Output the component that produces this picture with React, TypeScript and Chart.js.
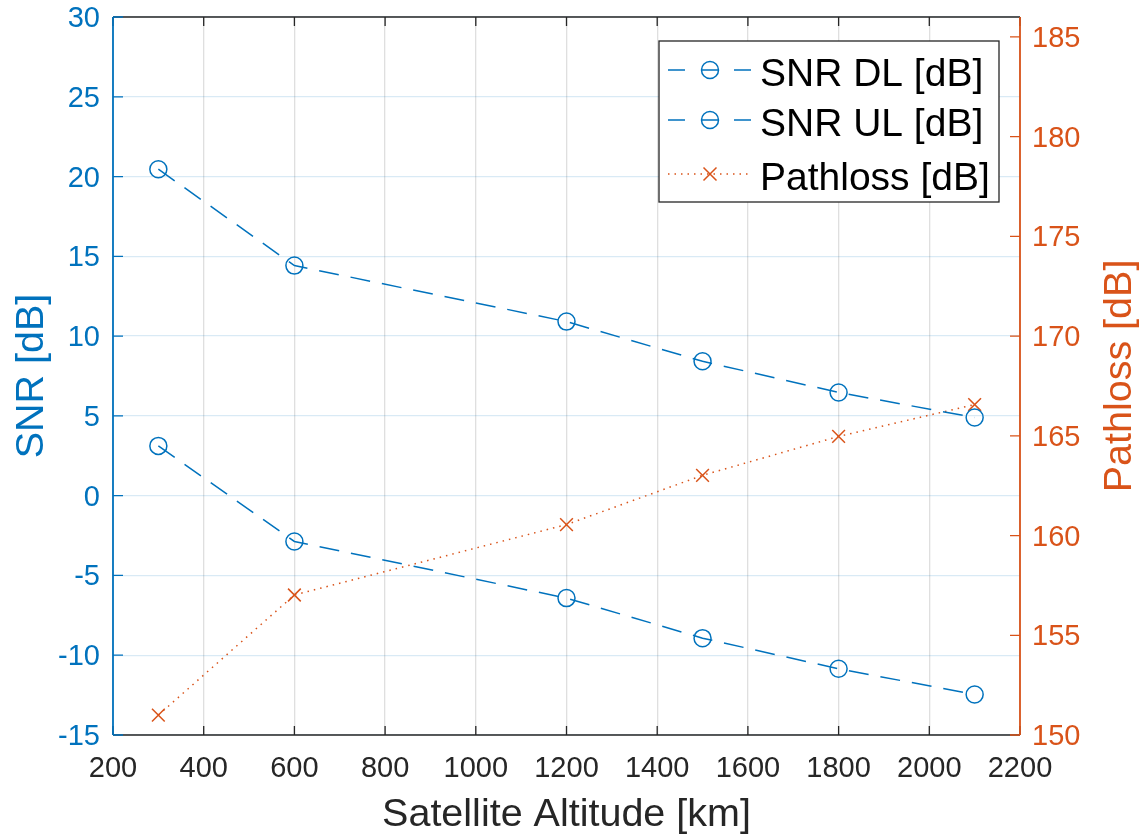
import React, { useEffect, useRef } from "react";
import { Chart, registerables } from "chart.js";

Chart.register(...registerables);

// Satellite altitude in km
const altitudes = [300, 600, 1200, 1500, 1800, 2100];
// Downlink / uplink SNR in dB
const snrDL = [20.46, 14.42, 10.91, 8.42, 6.47, 4.9];
const snrUL = [3.12, -2.87, -6.42, -8.93, -10.85, -12.46];
// Free-space path loss in dB
const pathloss = [151.0, 157.02, 160.55, 163.02, 164.97, 166.57];

const xTicks = [200, 400, 600, 800, 1000, 1200, 1400, 1600, 1800, 2000, 2200];
const snrTicks = [-15, -10, -5, 0, 5, 10, 15, 20, 25, 30];
const pathlossTicks = [150, 155, 160, 165, 170, 175, 180, 185];

const seriesLabels = ["SNR DL [dB]", "SNR UL [dB]", "Pathloss [dB]"];
const xTitle = "Satellite Altitude [km]";
const leftTitle = "SNR [dB]";
const rightTitle = "Pathloss [dB]";

const BLUE = "#0072BD";
const ORANGE = "#D95319";
const DARK = "#262626";
const FONT = '"Liberation Sans", Arial, Helvetica, sans-serif';

const toPoints = (ys: number[]) => altitudes.map((x, i) => ({ x, y: ys[i] }));

const axesPlugin = {
  id: "matlabAxes",
  afterDraw(chart: any) {
    const { ctx, chartArea } = chart;
    const { left, right, top, bottom } = chartArea;
    const xs = chart.scales.x;
    const yl = chart.scales.y;
    const yr = chart.scales.y1;
    ctx.save();

    // box edges
    ctx.lineWidth = 1.5;
    ctx.strokeStyle = DARK;
    ctx.beginPath();
    ctx.moveTo(left, bottom);
    ctx.lineTo(right, bottom);
    ctx.moveTo(left, top);
    ctx.lineTo(right, top);
    ctx.stroke();

    // x ticks (inward, top and bottom)
    ctx.lineWidth = 1.3;
    ctx.strokeStyle = DARK;
    ctx.beginPath();
    xTicks.forEach((v) => {
      const px = xs.getPixelForValue(v);
      ctx.moveTo(px, bottom);
      ctx.lineTo(px, bottom - 9);
      ctx.moveTo(px, top);
      ctx.lineTo(px, top + 9);
    });
    ctx.stroke();

    // left axis
    ctx.strokeStyle = BLUE;
    ctx.lineWidth = 1.8;
    ctx.beginPath();
    ctx.moveTo(left, top);
    ctx.lineTo(left, bottom);
    ctx.stroke();
    ctx.lineWidth = 1.3;
    ctx.beginPath();
    snrTicks.forEach((v) => {
      const py = yl.getPixelForValue(v);
      ctx.moveTo(left, py);
      ctx.lineTo(left + 10, py);
    });
    ctx.stroke();

    // right axis
    ctx.strokeStyle = ORANGE;
    ctx.lineWidth = 1.8;
    ctx.beginPath();
    ctx.moveTo(right, top);
    ctx.lineTo(right, bottom);
    ctx.stroke();
    ctx.lineWidth = 1.3;
    ctx.beginPath();
    pathlossTicks.forEach((v) => {
      const py = yr.getPixelForValue(v);
      ctx.moveTo(right, py);
      ctx.lineTo(right - 10, py);
    });
    ctx.stroke();

    // tick labels
    ctx.font = `29px ${FONT}`;
    ctx.textBaseline = "alphabetic";
    ctx.fillStyle = DARK;
    ctx.textAlign = "center";
    xTicks.forEach((v) => {
      ctx.fillText(String(v), xs.getPixelForValue(v), 777);
    });
    ctx.fillStyle = BLUE;
    ctx.textAlign = "right";
    snrTicks.forEach((v) => {
      ctx.fillText(String(v), 100, yl.getPixelForValue(v) + 10);
    });
    ctx.fillStyle = ORANGE;
    ctx.textAlign = "left";
    pathlossTicks.forEach((v) => {
      ctx.fillText(String(v), 1032, yr.getPixelForValue(v) + 10);
    });

    // axis titles
    ctx.font = `39.5px ${FONT}`;
    ctx.textAlign = "center";
    ctx.fillStyle = DARK;
    ctx.fillText(xTitle, (left + right) / 2, 826);
    const midY = (top + bottom) / 2;
    ctx.save();
    ctx.translate(43, midY);
    ctx.rotate(-Math.PI / 2);
    ctx.fillStyle = BLUE;
    ctx.fillText(leftTitle, 0, 0);
    ctx.restore();
    ctx.save();
    ctx.translate(1131, midY);
    ctx.rotate(-Math.PI / 2);
    ctx.fillStyle = ORANGE;
    ctx.fillText(rightTitle, 0, 0);
    ctx.restore();

    // legend
    const bx = 659, by = 41, bw = 340, bh = 161;
    ctx.fillStyle = "#ffffff";
    ctx.fillRect(bx, by, bw, bh);
    ctx.strokeStyle = DARK;
    ctx.lineWidth = 1.3;
    ctx.strokeRect(bx, by, bw, bh);
    const rows = [70, 120, 174];
    chart.data.datasets.forEach((ds: any, i: number) => {
      const ry = rows[i];
      ctx.strokeStyle = ds.borderColor;
      ctx.lineWidth = 1.5;
      ctx.setLineDash(i < 2 ? [17, 16] : [1.5, 5]);
      ctx.beginPath();
      ctx.moveTo(668, ry);
      ctx.lineTo(752, ry);
      ctx.stroke();
      ctx.setLineDash([]);
      ctx.beginPath();
      if (ds.pointStyle === "circle") {
        ctx.arc(710, ry, 8.5, 0, Math.PI * 2);
      } else {
        const d = 6.5;
        ctx.moveTo(710 - d, ry - d);
        ctx.lineTo(710 + d, ry + d);
        ctx.moveTo(710 - d, ry + d);
        ctx.lineTo(710 + d, ry - d);
      }
      ctx.stroke();
      ctx.fillStyle = "#000000";
      ctx.textAlign = "left";
      ctx.font = `39px ${FONT}`;
      ctx.fillText(ds.label, 760, ry + 16);
    });

    ctx.restore();
  },
};

export default function App() {
  const canvasRef = useRef<HTMLCanvasElement | null>(null);

  useEffect(() => {
    document.body.style.margin = "0";
    const canvas = canvasRef.current;
    if (!canvas) return;
    const snrStyle = {
      yAxisID: "y",
      borderColor: BLUE,
      borderWidth: 1.5,
      borderDash: [20, 12],
      pointStyle: "circle",
      pointRadius: 8.5,
      pointBorderWidth: 1.5,
      pointBorderColor: BLUE,
      pointBackgroundColor: "rgba(0,0,0,0)",
      fill: false,
      tension: 0,
    };
    const chart = new Chart(canvas, {
      type: "line",
      data: {
        datasets: [
          { label: seriesLabels[0], data: toPoints(snrDL), ...snrStyle },
          { label: seriesLabels[1], data: toPoints(snrUL), ...snrStyle },
          {
            label: seriesLabels[2],
            data: toPoints(pathloss),
            yAxisID: "y1",
            borderColor: ORANGE,
            borderWidth: 1.5,
            borderDash: [1.5, 5],
            pointStyle: "crossRot",
            pointRadius: 9,
            pointBorderWidth: 1.5,
            pointBorderColor: ORANGE,
            pointBackgroundColor: ORANGE,
            fill: false,
            tension: 0,
          },
        ],
      } as any,
      options: {
        responsive: false,
        animation: false,
        devicePixelRatio: 1,
        layout: { padding: { top: 17, left: 0, right: 0, bottom: 0 } },
        plugins: {
          legend: { display: false },
          tooltip: { enabled: false },
        },
        scales: {
          x: {
            type: "linear",
            position: "bottom",
            min: xTicks[0],
            max: xTicks[xTicks.length - 1],
            ticks: { display: false, stepSize: 200 },
            grid: { color: "rgba(38,38,38,0.15)", drawTicks: false, lineWidth: 1.3 },
            border: { display: false },
            afterFit: (s: any) => {
              s.height = 101;
            },
          },
          y: {
            position: "left",
            min: snrTicks[0],
            max: snrTicks[snrTicks.length - 1],
            ticks: { display: false, stepSize: 5 },
            grid: { color: "rgba(0,114,189,0.15)", drawTicks: false, lineWidth: 1.3 },
            border: { display: false },
            afterFit: (s: any) => {
              s.width = 113;
            },
          },
          y1: {
            position: "right",
            min: 150,
            max: 186,
            ticks: { display: false, stepSize: 5 },
            grid: { display: false },
            border: { display: false },
            afterFit: (s: any) => {
              s.width = 126;
            },
          },
        },
      },
      plugins: [axesPlugin],
    });
    return () => chart.destroy();
  }, []);

  return (
    <div style={{ position: "absolute", left: 0, top: 0, width: 1146, height: 836, background: "#fff" }}>
      <canvas ref={canvasRef} width={1146} height={836} style={{ display: "block" }} />
    </div>
  );
}
